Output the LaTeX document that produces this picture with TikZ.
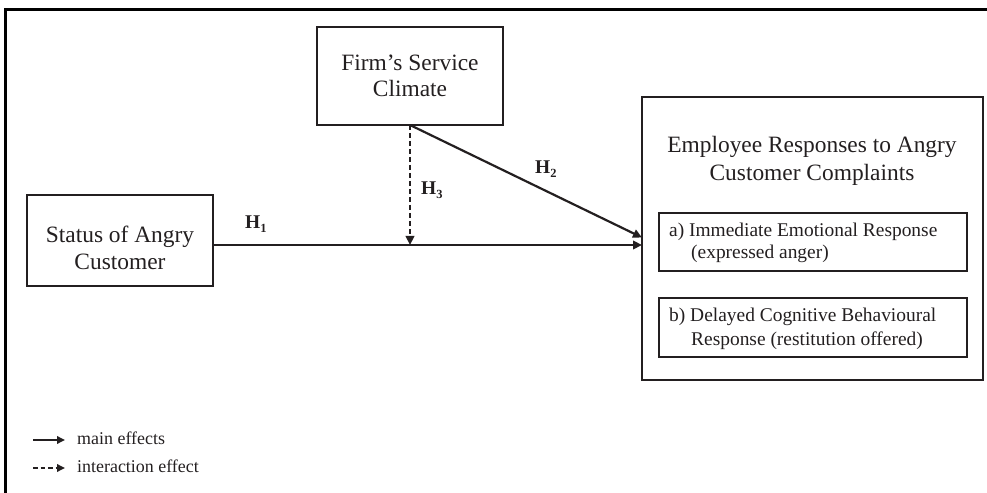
\documentclass[tikz,border=0pt]{standalone}
\usepackage{fontspec}
\setmainfont{Liberation Serif}
\usetikzlibrary{arrows.meta}
\definecolor{ink}{HTML}{231F20}
\begin{document}
\begin{tikzpicture}[x=1bp,y=-1bp, color=ink,
  box/.style={draw=ink, line width=1.4bp, inner sep=0pt, outer sep=0pt},
  big/.style={font=\fontsize{23.5}{27}\selectfont, anchor=base, inner sep=0pt, text=ink},
  small/.style={font=\fontsize{19.5}{23}\selectfont, anchor=base west, inner sep=0pt, text=ink},
  legtext/.style={font=\fontsize{18}{20}\selectfont, anchor=base west, inner sep=0pt, text=ink},
  hlab/.style={font=\fontsize{19.5}{20}\selectfont\bfseries, anchor=base west, inner sep=0pt, text=ink},
  mainarrow/.style={draw=ink, line width=2.2bp, -{Triangle[length=9bp,width=8.5bp]}},
  interarrow/.style={draw=ink, line width=2.2bp, dash pattern=on 5bp off 3bp, -{Triangle[length=9bp,width=8.5bp]}},
  frameline/.style={draw=black, line width=3bp}
]
\useasboundingbox (0,0) rectangle (987,493);
% outer frame
\coordinate (fa) at (5,10);
\coordinate (fb) at (987,10);
\coordinate (fc) at (5,493);
\draw[frameline] (fb) -- (fa) -- (fc);

% boxes
\node[box, minimum width=186bp, minimum height=98bp] (firm) at (410,76) {};
\node[box, minimum width=186bp, minimum height=91bp] (status) at (120,240.5) {};
\node[box, minimum width=341bp, minimum height=283bp] (main) at (812.5,238.5) {};
\node[box, minimum width=308bp, minimum height=58bp] (suba) at (813,242) {};
\node[box, minimum width=308bp, minimum height=59bp] (subb) at (813,327.5) {};

% texts
\node[big] (firmt1) at (410,70.5) {Firm’s Service};
\node[big] (firmt2) at (410,97) {Climate};
\node[big] (statt1) at (120,243) {Status of Angry};
\node[big] (statt2) at (120,269.5) {Customer};
\node[big] (maint1) at (812,153) {Employee Responses to Angry};
\node[big] (maint2) at (812,181) {Customer Complaints};
\node[small] (sa1) at (669,237) {a) Immediate Emotional Response};
\node[small] (sa2) at (691,259) {(expressed anger)};
\node[small] (sb1) at (669,322) {b) Delayed Cognitive Behavioural};
\node[small] (sb2) at (691,346) {Response (restitution offered)};

% connectors
\coordinate (h1s) at (213,245);
\coordinate (h1e) at (642,245);
\coordinate (h2e) at (642,237.5);
\coordinate (h3e) at (410,245);
\draw[draw=ink, line width=2.2bp] (h1s) -- (h3e);
\draw[mainarrow] (h3e) -- (h1e);
\draw[mainarrow] (firm.south) -- (h2e);
\draw[interarrow] (firm.south) -- (h3e);

% hypothesis labels
\node[hlab] (H1) at (245,229) {H\raisebox{-4bp}{\fontsize{12.5}{12}\selectfont 1}};
\node[hlab] (H2) at (535,174) {H\raisebox{-4bp}{\fontsize{12.5}{12}\selectfont 2}};
\node[hlab] (H3) at (421,195) {H\raisebox{-4bp}{\fontsize{12.5}{12}\selectfont 3}};

% legend
\coordinate (l1s) at (33,440);
\coordinate (l1e) at (65,440);
\coordinate (l2s) at (33,468);
\coordinate (l2e) at (65,468);
\draw[draw=ink, line width=1.8bp, -{Triangle[length=8bp,width=7.5bp]}] (l1s) -- (l1e);
\draw[draw=ink, line width=1.8bp, dash pattern=on 4.5bp off 3bp, -{Triangle[length=8bp,width=7.5bp]}] (l2s) -- (l2e);
\node[legtext] (lt1) at (77,444.5) {main effects};
\node[legtext] (lt2) at (77,472.5) {interaction effect};
\end{tikzpicture}
\end{document}
